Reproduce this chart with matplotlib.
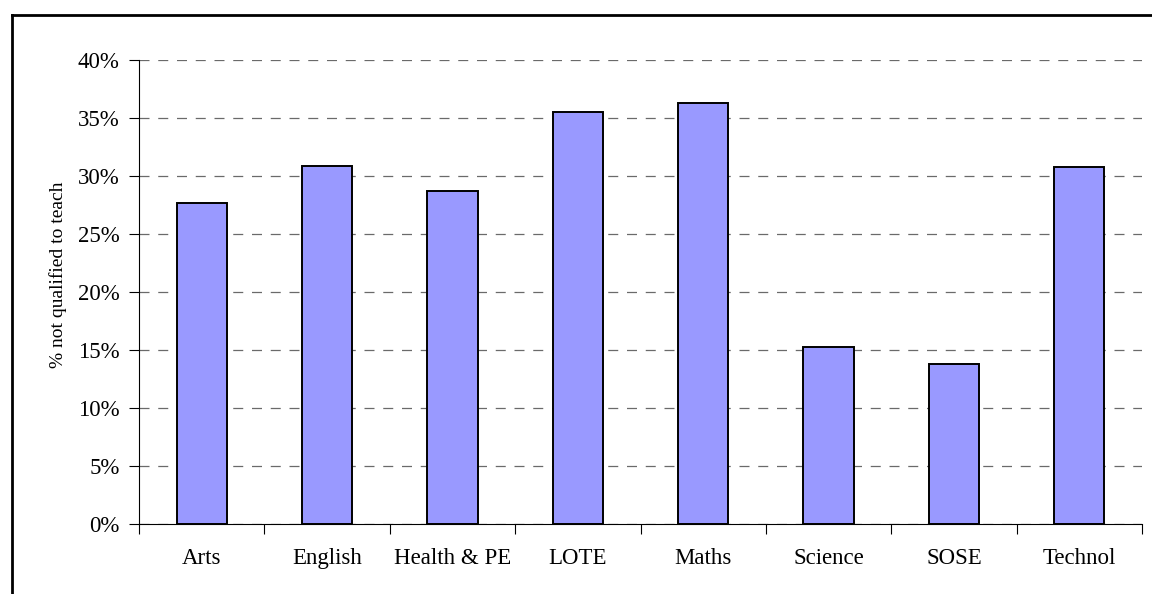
import matplotlib
matplotlib.use('Agg')
import matplotlib.pyplot as plt
import numpy as np
from matplotlib.lines import Line2D
from matplotlib.ticker import FixedLocator, PercentFormatter

plt.rcParams.update({
    'font.family': ['Liberation Serif', 'DejaVu Serif'],
    'font.size': 16,
})

# --- Data ---
subjects = ['Arts', 'English', 'Health & PE', 'LOTE', 'Maths', 'Science', 'SOSE', 'Technol']
pct_not_qualified = [27.7, 30.9, 28.7, 35.5, 36.3, 15.3, 13.8, 30.8]
y_ticks = [0, 5, 10, 15, 20, 25, 30, 35, 40]

fig = plt.figure(figsize=(11.52, 5.94), dpi=100)
ax = fig.add_axes([139 / 1152, 70 / 594, 1003 / 1152, 464 / 594])

x = np.arange(len(subjects))
ax.bar(x, pct_not_qualified, width=0.4, color='#9999FF', edgecolor='black',
       linewidth=1.4, zorder=3)

ax.set_xlim(-0.5, len(subjects) - 0.5)
ax.set_ylim(0, 40)

# y axis
ax.set_yticks(y_ticks)
ax.yaxis.set_major_formatter(PercentFormatter(decimals=0))
ax.tick_params(axis='y', direction='out', length=7, width=0.8, pad=7, labelsize=16.5)
ax.set_ylabel('% not qualified to teach', fontsize=14)
ax.yaxis.set_label_coords(-0.072, 0.537)

# x axis: ticks between categories, labels at centres
ax.xaxis.set_major_locator(FixedLocator(np.arange(len(subjects) + 1) - 0.5))
ax.xaxis.set_minor_locator(FixedLocator(x))
ax.set_xticklabels([''] * (len(subjects) + 1))
ax.set_xticklabels(subjects, minor=True)
ax.tick_params(axis='x', which='major', direction='out', length=7, width=0.8)
ax.tick_params(axis='x', which='minor', length=0, pad=17, labelsize=16.5)

# gridlines
ax.yaxis.grid(True, color='#6a6a6a', linestyle=(0, (8, 7)), linewidth=0.9, zorder=0)
ax.set_axisbelow(True)

for s in ['top', 'right']:
    ax.spines[s].set_visible(False)
ax.spines['left'].set_linewidth(0.8)
ax.spines['bottom'].set_linewidth(0.8)

# outer chart border (left and top visible in the reference)
fig.add_artist(Line2D([12 / 1152, 12 / 1152], [0, 1 - 15 / 594], color='black',
                      linewidth=2, transform=fig.transFigure))
fig.add_artist(Line2D([12 / 1152, 1], [1 - 15 / 594, 1 - 15 / 594], color='black',
                      linewidth=2, transform=fig.transFigure))

fig.savefig('out.png', dpi=100)
